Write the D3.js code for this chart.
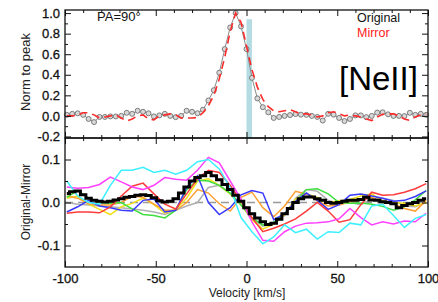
<!DOCTYPE html>
<html>
<head>
<meta charset="utf-8">
<script src="https://cdn.jsdelivr.net/npm/d3@7"></script>
<style>
  body { margin: 0; background: #fff; }
  svg text { font-family: "Liberation Sans", Arial, Helvetica, sans-serif; }
</style>
</head>
<body>
<div id="chart"></div>
<script>
// velocity grids [km/s]
var velFine = [-99,-96,-93,-90,-87,-84,-81,-78,-75,-72,-69,-66,-63,-60,-57,-54,-51,-48,-45,-42,-39,-36,-33,-30,-27,-24,-21,-18,-15,-12,-9,-6,-3,0,3,6,9,12,15,18,21,24,27,30,33,36,39,42,45,48,51,54,57,60,63,66,69,72,75,78,81,84,87,90,93,96,99];
var velCoarse = [-99,-93,-87,-81,-75,-69,-63,-57,-51,-45,-39,-33,-27,-21,-15,-9,-3,3,9,15,21,27,33,39,45,51,57,63,69,75,81,87,93,99];

// top panel: normalised line profile
var original = [0.01,0.02,0.025,0.01,-0.03,-0.06,-0.01,-0.01,-0.005,-0.005,0.0,0.03,0.02,0.05,0.04,0.025,-0.005,0.005,0.02,0.0,-0.012,0.0,0.05,0.04,0.026,0.06,0.15,0.25,0.42,0.65,0.86,1.0,0.87,0.65,0.37,0.17,0.085,0.035,-0.02,-0.01,0.0,0.008,0.018,0.012,0.01,0.0,-0.01,-0.045,0.02,0.012,-0.02,-0.05,-0.03,0.005,0.005,-0.012,0.0,0.032,0.035,0.015,0.0,0.0,-0.002,0.03,0.01,0.02,0.01];
var mirror = [0.0,0.0,0.01,0.03,0.03,0.01,-0.02,-0.01,0.0,0.01,-0.02,-0.05,-0.03,0.0,0.01,-0.03,-0.04,0.0,0.01,0.02,0.01,-0.02,-0.02,-0.02,-0.015,0.03,0.1,0.2,0.36,0.57,0.82,1.0,0.91,0.68,0.45,0.28,0.16,0.09,0.05,0.04,0.05,0.06,0.04,0.02,0.02,0.01,-0.01,0.0,0.03,0.04,0.02,0.0,0.01,0.0,-0.01,-0.03,-0.045,-0.01,0.015,0.02,0.02,0.0,-0.03,-0.045,-0.01,0.01,0.02];
var band = [0, 3];
var bandTop = 0.94;

// bottom panel: original - mirror
var diffMean = [0.021,0.025,0.027,0.018,0.01,0.005,0.003,0.001,0.003,0.006,0.009,0.012,0.014,0.017,0.018,0.016,0.011,0.004,0.001,0.003,0.009,0.022,0.036,0.05,0.058,0.062,0.07,0.062,0.053,0.042,0.03,0.017,0.003,-0.012,-0.026,-0.036,-0.045,-0.051,-0.048,-0.039,-0.026,-0.014,0.0,0.009,0.013,0.013,0.009,0.005,0.0,-0.002,0.0,0.003,0.005,0.005,0.007,0.012,0.006,0.005,0.002,0.0,-0.003,-0.012,-0.007,-0.003,0.0,0.005,0.009];
var diffGrey    = [0.0,-0.004,-0.006,-0.008,-0.01,-0.012,-0.015,-0.018,-0.022,-0.028,-0.018,-0.008,0.0,0.035,0.04,0.02,-0.005,-0.035,-0.055,-0.05,-0.03,0.01,0.03,0.026,0.005,-0.002,0.0,-0.005,0.008,0.01,0.005,-0.008,-0.01,0.0];
var diffYellow  = [0.01,0.015,-0.004,-0.016,-0.028,-0.01,-0.002,0.01,-0.005,-0.025,-0.016,0.01,0.05,0.055,0.04,0.02,-0.005,-0.04,-0.062,-0.05,-0.028,0.008,0.02,0.012,0.0,0.004,0.007,0.015,0.02,0.004,0.0,-0.002,-0.008,0.0];
var diffOrange  = [0.015,0.01,-0.003,-0.006,-0.006,0.0,0.015,0.012,-0.004,-0.018,-0.018,0.0,0.03,0.022,-0.003,-0.02,0.012,0.024,-0.012,-0.033,-0.008,0.026,0.02,0.004,-0.008,-0.006,0.001,0.006,0.012,0.0,-0.003,-0.014,-0.02,0.005];
var diffGreen   = [0.012,0.028,0.01,0.0,-0.002,0.0,-0.015,-0.028,-0.03,-0.036,-0.018,0.03,0.052,0.05,0.04,0.022,-0.006,-0.036,-0.052,-0.046,-0.025,0.002,0.03,0.032,0.02,0.0,-0.002,-0.001,-0.004,-0.009,-0.018,-0.01,0.006,0.028];
var diffBlue    = [-0.022,-0.01,0.005,-0.008,-0.012,-0.018,-0.02,0.005,0.008,-0.022,-0.018,0.035,0.062,0.0,-0.028,-0.012,0.018,0.028,0.022,-0.04,-0.026,0.003,0.022,0.005,-0.016,-0.005,0.017,0.02,0.015,0.01,0.003,0.005,0.014,0.027];
var diffRed     = [-0.025,-0.022,-0.022,-0.024,-0.01,0.015,0.038,0.045,0.02,-0.004,-0.015,0.02,0.055,0.075,0.07,0.04,0.003,-0.035,-0.068,-0.06,-0.05,-0.038,-0.02,0.0,-0.02,-0.046,-0.04,-0.005,0.024,0.017,0.018,0.024,0.032,0.044];
var diffMagenta = [0.036,0.033,0.035,0.042,0.059,0.048,0.036,0.03,0.04,0.058,0.054,0.052,0.075,0.105,0.092,0.05,0.008,-0.045,-0.088,-0.09,-0.068,-0.055,-0.048,-0.047,-0.045,-0.038,-0.014,-0.035,-0.052,-0.045,-0.05,-0.043,-0.045,-0.025];
var diffCyan    = [0.05,0.015,0.0,-0.004,0.04,0.075,0.075,0.082,0.07,0.075,0.066,0.075,0.095,0.1,0.078,0.035,-0.035,-0.068,-0.096,-0.08,-0.052,-0.07,-0.062,-0.085,-0.068,-0.07,-0.048,-0.052,-0.008,-0.004,-0.03,-0.058,-0.037,-0.028];

var diffSeries = [
    { values: diffGrey, color: "#b0b0b0" },
    { values: diffYellow, color: "#f2e01c" },
    { values: diffOrange, color: "#ffa032" },
    { values: diffGreen, color: "#3ede3e" },
    { values: diffBlue, color: "#3a3aff" },
    { values: diffRed, color: "#ff3a3a" },
    { values: diffMagenta, color: "#ff40ff" },
    { values: diffCyan, color: "#3cf0ff" }
];

var width = 438, height = 302;
var left = 65, right = 428;
var topY0 = 10, topY1 = 138, botY0 = 138, botY1 = 267;

var svg = d3.select("#chart").append("svg")
    .attr("width", width)
    .attr("height", height);

svg.append("rect").attr("width", width).attr("height", height).attr("fill", "#fff");

var x = d3.scaleLinear().domain([-100, 100]).range([left, right]);
var yTop = d3.scaleLinear().domain([-0.215, 1.03]).range([topY1, topY0]);
var yBot = d3.scaleLinear().domain([-0.15, 0.15]).range([botY1, botY0]);

var fmt1 = function (d) { return d.toFixed(1); };
var xMinor = [-90,-80,-70,-60,-40,-30,-20,-10,10,20,30,40,60,70,80,90];

function drawFrame(y, y0, y1, yMajor, yMinor, yFmt, xLabels) {
    var g = svg.append("g");
    // x ticks (bottom + top, inward)
    g.append("g").attr("transform", "translate(0," + y1 + ")")
        .call(d3.axisBottom(x).tickValues([-100, -50, 0, 50, 100]).tickSize(-6).tickPadding(7)
            .tickFormat(xLabels ? function (d) { return String(d); } : ""));
    g.append("g").attr("transform", "translate(0," + y1 + ")")
        .call(d3.axisBottom(x).tickValues(xMinor).tickSize(-3).tickFormat(""));
    g.append("g").attr("transform", "translate(0," + y0 + ")")
        .call(d3.axisTop(x).tickValues([-100, -50, 0, 50, 100]).tickSize(-6).tickFormat(""));
    g.append("g").attr("transform", "translate(0," + y0 + ")")
        .call(d3.axisTop(x).tickValues(xMinor).tickSize(-3).tickFormat(""));
    // y ticks (left + right, inward)
    g.append("g").attr("transform", "translate(" + left + ",0)")
        .call(d3.axisLeft(y).tickValues(yMajor).tickSize(-6).tickPadding(5).tickFormat(yFmt));
    g.append("g").attr("transform", "translate(" + left + ",0)")
        .call(d3.axisLeft(y).tickValues(yMinor).tickSize(-3).tickFormat(""));
    g.append("g").attr("transform", "translate(" + right + ",0)")
        .call(d3.axisRight(y).tickValues(yMajor).tickSize(-6).tickFormat(""));
    g.append("g").attr("transform", "translate(" + right + ",0)")
        .call(d3.axisRight(y).tickValues(yMinor).tickSize(-3).tickFormat(""));
    g.selectAll(".domain").remove();
    g.selectAll(".tick line").attr("stroke", "#111");
    g.selectAll(".tick text").attr("font-size", 13).attr("fill", "#111")
        .attr("stroke", "#111").attr("stroke-width", 0.3)
        .attr("font-family", "'Liberation Sans', Arial, sans-serif");
    g.append("rect")
        .attr("x", left).attr("y", y0)
        .attr("width", right - left).attr("height", y1 - y0)
        .attr("fill", "none").attr("stroke", "#111").attr("stroke-width", 1.3);
    return g;
}

// ---------- top panel ----------
var topG = svg.append("g");
topG.append("rect")
    .attr("x", x(band[0])).attr("y", yTop(bandTop))
    .attr("width", x(band[1]) - x(band[0]))
    .attr("height", yTop.range()[0] - yTop(bandTop))
    .attr("fill", "#b4dce2");

var lineTop = d3.line().x(function (d, i) { return x(velFine[i]); }).y(function (d) { return yTop(d); });

topG.append("path").datum(original)
    .attr("d", lineTop).attr("fill", "none").attr("stroke", "#8a8a8a").attr("stroke-width", 1);
topG.selectAll("circle").data(original).enter().append("circle")
    .attr("cx", function (d, i) { return x(velFine[i]); })
    .attr("cy", function (d) { return yTop(d); })
    .attr("r", 2.5)
    .attr("fill", "#d8d8d8").attr("stroke", "#707070").attr("stroke-width", 0.9);
topG.append("path").datum(mirror)
    .attr("d", lineTop).attr("fill", "none").attr("stroke", "#ff2a2a")
    .attr("stroke-width", 1.6).attr("stroke-dasharray", "8,5");

drawFrame(yTop, topY0, topY1, [-0.2, 0, 0.2, 0.4, 0.6, 0.8, 1.0],
    [-0.1, 0.1, 0.3, 0.5, 0.7, 0.9], fmt1, false);

svg.append("text").attr("x", 97).attr("y", 21).attr("font-size", 13).attr("fill", "#111").text("PA=90°");
svg.append("text").attr("x", 357).attr("y", 22).attr("font-size", 12.5).attr("fill", "#111").text("Original");
svg.append("text").attr("x", 357).attr("y", 37).attr("font-size", 12.5).attr("fill", "#ff2020").text("Mirror");
svg.append("text").attr("x", 339).attr("y", 90).attr("font-size", 33).attr("fill", "#000").text("[NeII]");

// ---------- bottom panel ----------
var botG = svg.append("g");
botG.append("line")
    .attr("x1", x(-100)).attr("x2", x(100))
    .attr("y1", yBot(0)).attr("y2", yBot(0))
    .attr("stroke", "#999").attr("stroke-width", 1.5).attr("stroke-dasharray", "8,5");

var lineBot = d3.line().x(function (d, i) { return x(velCoarse[i]); }).y(function (d) { return yBot(d); });
botG.selectAll("path.diff").data(diffSeries).enter().append("path")
    .attr("class", "diff")
    .attr("d", function (s) { return lineBot(s.values); })
    .attr("fill", "none")
    .attr("stroke", function (s) { return s.color; })
    .attr("stroke-width", 1.5);

var stepLine = d3.line().curve(d3.curveStep)
    .x(function (d, i) { return x(velFine[i]); }).y(function (d) { return yBot(d); });
botG.append("path").datum(diffMean)
    .attr("d", stepLine).attr("fill", "none").attr("stroke", "#000").attr("stroke-width", 3);

drawFrame(yBot, botY0, botY1, [-0.1, 0, 0.1], [-0.05, 0.05], fmt1, true);

// axis titles
svg.append("text").attr("transform", "translate(30,72) rotate(-90)")
    .attr("text-anchor", "middle").attr("font-size", 13).attr("fill", "#222").text("Norm to peak");
svg.append("text").attr("transform", "translate(30,202) rotate(-90)")
    .attr("text-anchor", "middle").attr("font-size", 12).attr("fill", "#222").text("Original-Mirror");
svg.append("text").attr("x", 247).attr("y", 297)
    .attr("text-anchor", "middle").attr("font-size", 12).attr("fill", "#222").text("Velocity [km/s]");
</script>
</body>
</html>
